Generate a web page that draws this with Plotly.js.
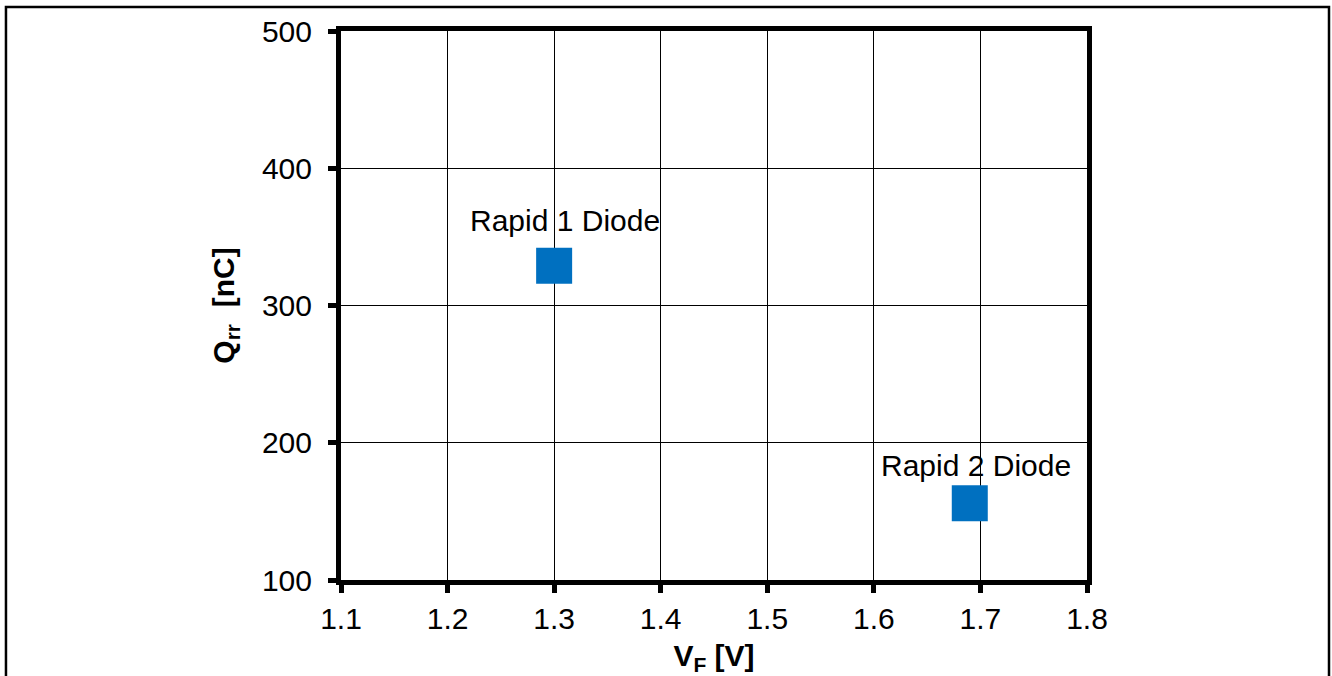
<!DOCTYPE html>
<html>
<head>
<meta charset="utf-8">
<script src="https://cdn.plot.ly/plotly-3.0.1.min.js"></script>
<style>
html,body{margin:0;padding:0;background:#fff;}
#chart{width:1332px;height:676px;}
</style>
</head>
<body>
<div id="chart"></div>
<script>
const diodeNames = ["Rapid 1 Diode", "Rapid 2 Diode"];
const vf = [1.30, 1.69];
const qrr = [329, 156];
const xTicks = [1.1, 1.2, 1.3, 1.4, 1.5, 1.6, 1.7, 1.8];
const xTickLabels = ["1.1", "1.2", "1.3", "1.4", "1.5", "1.6", "1.7", "1.8"];
const yTicks = [100, 200, 300, 400, 500];
const yTickLabels = ["100", "200", "300", "400", "500"];

const labelShiftX = [11, 6];
const labelShiftY = [45, 38];

const FONT = "Liberation Sans, Arial, Helvetica, sans-serif";

const trace = {
  x: vf,
  y: qrr,
  type: "scatter",
  mode: "markers",
  marker: {symbol: "square", size: 36, color: "#0070C0", line: {width: 0}},
  hoverinfo: "skip",
  cliponaxis: false
};

const annotations = diodeNames.map((n, i) => ({
  x: vf[i], y: qrr[i], xref: "x", yref: "y",
  text: n, showarrow: false,
  xshift: labelShiftX[i], yshift: labelShiftY[i],
  font: {family: FONT, size: 30, color: "#000"},
  xanchor: "center", yanchor: "middle"
}));

const layout = {
  width: 1332, height: 676,
  margin: {l: 341, r: 245, t: 31, b: 96, pad: 0},
  paper_bgcolor: "#fff", plot_bgcolor: "#fff",
  showlegend: false,
  font: {family: FONT, size: 30, color: "#000"},
  xaxis: {
    range: [1.1, 1.8],
    tickmode: "array", tickvals: xTicks, ticktext: xTickLabels,
    showline: true, linecolor: "#000", linewidth: 5, mirror: true,
    ticks: "outside", ticklen: 8, tickwidth: 5, tickcolor: "#000",
    showgrid: true, gridcolor: "#000", gridwidth: 1,
    zeroline: false,
    tickfont: {family: FONT, size: 30, color: "#000"},
    title: {text: "<b>V<sub>F</sub> [V]</b>", font: {family: FONT, size: 30, color: "#000"}, standoff: 14}
  },
  yaxis: {
    range: [100, 500],
    tickmode: "array", tickvals: yTicks, ticktext: yTickLabels,
    showline: true, linecolor: "#000", linewidth: 5, mirror: true,
    ticks: "outside", ticklen: 8, tickwidth: 5, tickcolor: "#000",
    ticklabelstandoff: 10,
    showgrid: true, gridcolor: "#000", gridwidth: 1,
    zeroline: false,
    tickfont: {family: FONT, size: 30, color: "#000"},
    title: {text: "<b>Q<sub>rr</sub>  [nC]</b>", font: {family: FONT, size: 30, color: "#000"}, standoff: 20}
  },
  annotations: annotations,
  shapes: [{
    type: "rect", xref: "paper", yref: "paper",
    x0: -0.4491, x1: 1.3244, y0: -0.25, y1: 1.0437,
    line: {color: "#000", width: 2.5}, fillcolor: "rgba(0,0,0,0)", layer: "above"
  }]
};

Plotly.newPlot("chart", [trace], layout, {displayModeBar: false, staticPlot: true});
</script>
</body>
</html>
